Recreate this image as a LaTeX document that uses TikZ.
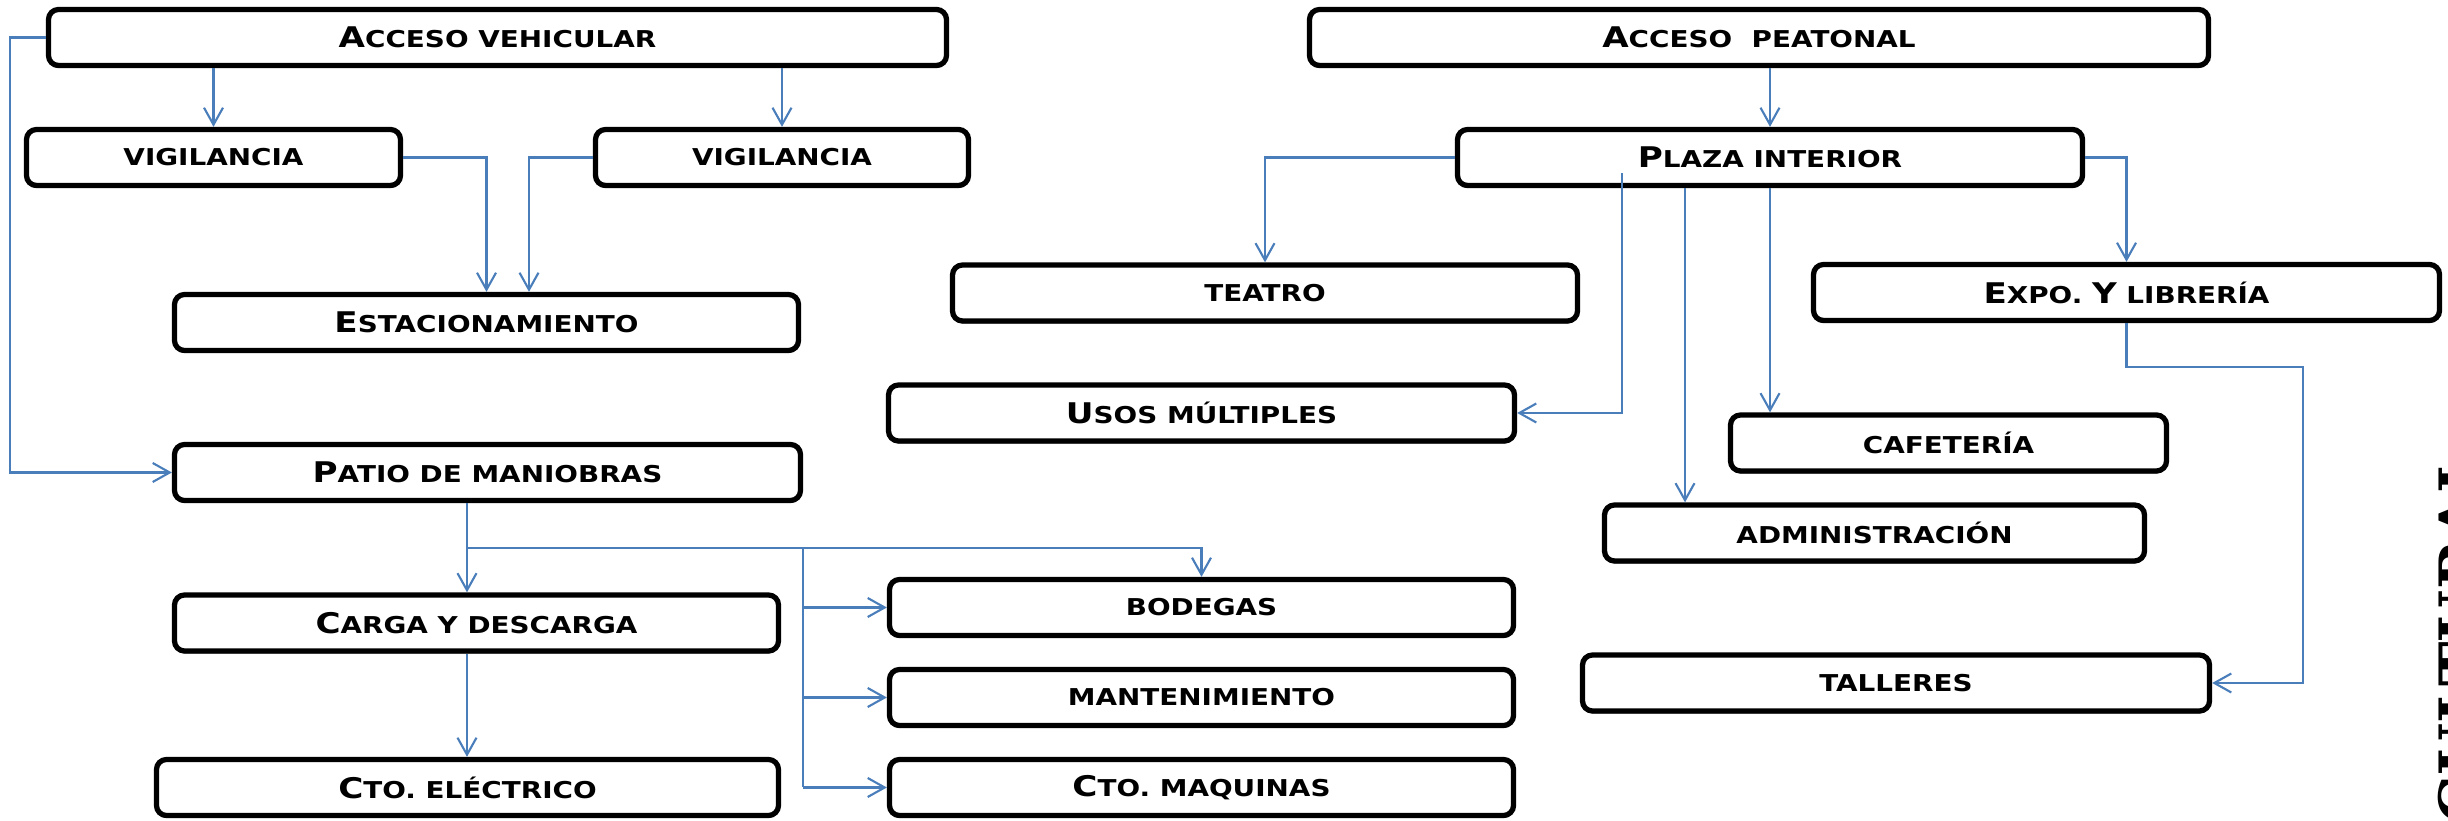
\documentclass[tikz,border=0pt]{standalone}
\usepackage{fontspec}
\newfontfamily\boxfont{DejaVu Sans}[FakeStretch=1.2]
\newfontfamily\titfont{DejaVu Serif}
\usepackage{tikz}
\usetikzlibrary{arrows.meta,shadows}
\definecolor{lnk}{RGB}{74,126,187}
\newcommand\up[1]{{\fontsize{8.1}{9}\selectfont #1}}

\begin{document}
\begin{tikzpicture}[
    every node/.style={font=\boxfont\bfseries\fontsize{6.6}{8}\selectfont},
    bx/.style={rectangle, draw, line width=1.5pt, rounded corners=1mm, fill=white,
               minimum height=5.6mm, inner sep=0pt,
               drop shadow={shadow xshift=0pt, shadow yshift=-0.7pt, fill=black, opacity=1}},
    e/.style={draw=lnk, line width=0.6pt, -{Straight Barb[length=1.7mm, width=1.9mm]}},
    ln/.style={draw=lnk, line width=0.6pt},
  ]
  \useasboundingbox (0,0) rectangle (24.48,-8.21);
  \node[bx, minimum width=8.98cm] (accV) at (4.975,-0.375) {\up{A}CCESO VEHICULAR};
  \node[bx, minimum width=3.74cm] (vigL) at (2.135,-1.575) {VIGILANCIA};
  \node[bx, minimum width=3.73cm] (vigR) at (7.82,-1.575) {VIGILANCIA};
  \node[bx, minimum width=6.24cm] (estac) at (4.865,-3.225) {\up{E}STACIONAMIENTO};
  \node[bx, minimum width=6.26cm] (patio) at (4.875,-4.725) {\up{P}ATIO DE MANIOBRAS};
  \node[bx, minimum width=6.04cm] (carga) at (4.765,-6.23) {\up{C}ARGA Y DESCARGA};
  \node[bx, minimum width=6.22cm] (ctoE) at (4.675,-7.875) {\up{C}TO. ELÉCTRICO};
  \node[bx, minimum width=6.24cm] (bodegas) at (12.015,-6.075) {BODEGAS};
  \node[bx, minimum width=6.24cm] (mant) at (12.015,-6.975) {MANTENIMIENTO};
  \node[bx, minimum width=6.24cm] (ctoM) at (12.015,-7.875) {\up{C}TO. MAQUINAS};
  \node[bx, minimum width=8.99cm] (accP) at (17.59,-0.375) {\up{A}CCESO\ \ PEATONAL};
  \node[bx, minimum width=6.25cm] (plaza) at (17.70,-1.575) {\up{P}LAZA INTERIOR};
  \node[bx, minimum width=6.25cm] (teatro) at (12.65,-2.93) {TEATRO};
  \node[bx, minimum width=6.26cm] (expo) at (21.265,-2.925) {\up{E}XPO. \up{Y} LIBRERÍA};
  \node[bx, minimum width=6.26cm] (usos) at (12.015,-4.13) {\up{U}SOS MÚLTIPLES};
  \node[bx, minimum width=4.36cm] (cafe) at (19.485,-4.43) {CAFETERÍA};
  \node[bx, minimum width=5.40cm] (admin) at (18.745,-5.33) {ADMINISTRACIÓN};
  \node[bx, minimum width=6.27cm] (talleres) at (18.96,-6.83) {TALLERES};
  \node[font=\titfont\bfseries\fontsize{17}{17}\selectfont, rotate=90, anchor=north west,
        inner sep=0pt] (tit) at (24.37,-8.24) {CULTURAL};
  \coordinate (br) at (4.67,-5.48);
  \coordinate (brM) at (8.03,-5.48);
  \coordinate (pu) at (16.22,-1.73);
  \coordinate (pa) at (16.85,-1.88);
  \coordinate (ct) at (23.03,-3.67);
  \draw[e] (accV.south -| vigL.north) -- (vigL.north);
  \draw[e] (accV.south -| vigR.north) -- (vigR.north);
  \draw[e] (vigL.east) -| (estac.north);
  \draw[e] (vigR.west) -| ([xshift=4.25mm]estac.north);
  \draw[e] (accV.west) -- ++(-0.36,0) |- (patio.west);
  \draw[e] (patio.south -| br) -- (carga.north -| br);
  \draw[ln] (br) -- (brM);
  \draw[e] (brM) -| (bodegas.north);
  \draw[ln] (brM) -- (brM |- ctoM.west);
  \draw[e] (brM |- bodegas.west) -- (bodegas.west);
  \draw[e] (brM |- mant.west) -- (mant.west);
  \draw[e] (brM |- ctoM.west) -- (ctoM.west);
  \draw[e] (carga.south -| br) -- (ctoE.north -| br);
  \draw[e] (accP.south -| plaza.north) -- (plaza.north);
  \draw[e] (plaza.west) -| (teatro.north);
  \draw[e] (plaza.east) -| (expo.north);
  \draw[e] (pu) |- (usos.east);
  \draw[e] (plaza.south -| pa) -- (admin.north -| pa);
  \draw[e] (plaza.south) -- (plaza.south |- cafe.north);
  \draw[e] (expo.south) |- (ct) |- (talleres.east);
\end{tikzpicture}
\end{document}
